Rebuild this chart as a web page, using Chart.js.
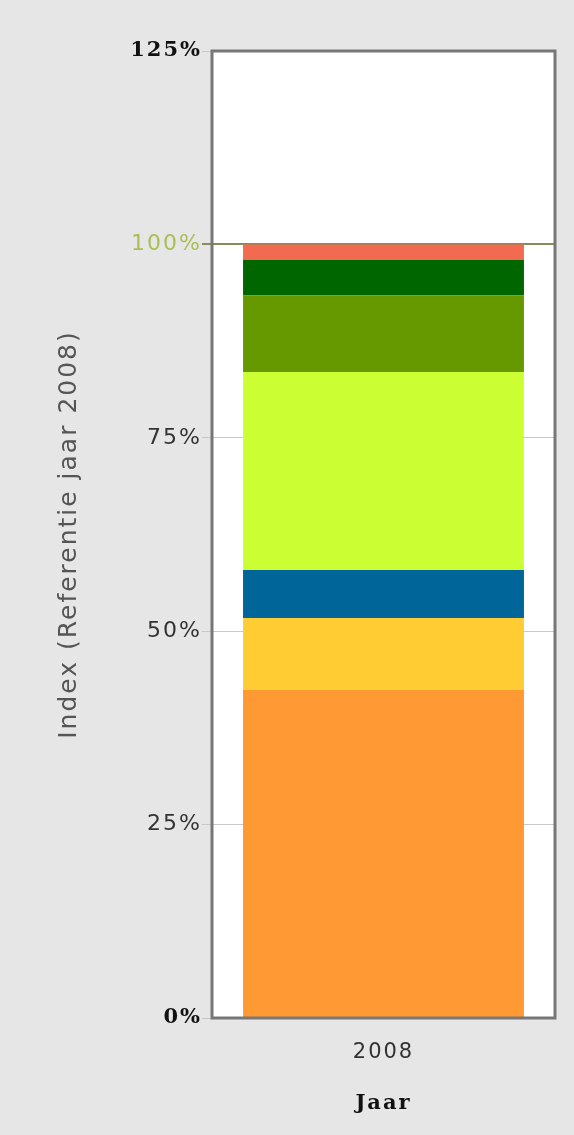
<!DOCTYPE html>
<html>
<head>
<meta charset="utf-8">
<script src="https://cdn.jsdelivr.net/npm/chart.js@4"></script>
<style>
  html, body { margin: 0; padding: 0; background: #e6e6e6; }
  #wrap { width: 574px; height: 1135px; position: relative; }
</style>
</head>
<body>
<div id="wrap"><canvas id="indexChart"></canvas></div>
<script>
// chart data
const categories = ["2008"];
const seriesNames = ["Deel 1", "Deel 2", "Deel 3", "Deel 4", "Deel 5", "Deel 6", "Deel 7"];
const seriesValues = [42.4, 9.3, 6.2, 25.6, 9.9, 4.6, 2.0];
const seriesColors = ["#ff9933", "#ffcc33", "#006699", "#ccff33", "#669900", "#006600", "#f26a4f"];
const tickValues = [0, 25, 50, 75, 100, 125];

const tickVal = ctx => (ctx && ctx.tick ? ctx.tick.value : null);
const isEnd = v => v === 0 || v === 125;

// grey page, white plot area and the frame round it
const frame = {
    id: "frame",
    beforeDraw(chart) {
        const c = chart.ctx, a = chart.chartArea;
        c.save();
        c.fillStyle = "#e6e6e6";
        c.fillRect(0, 0, chart.width, chart.height);
        c.fillStyle = "#ffffff";
        c.fillRect(a.left, a.top, a.right - a.left, a.bottom - a.top);
        c.restore();
        // the old chart has widely spaced lettering
        c.letterSpacing = "2px";
    },
    afterDraw(chart) {
        const c = chart.ctx, a = chart.chartArea;
        c.save();
        c.strokeStyle = "#777777";
        c.lineWidth = 3;
        c.strokeRect(a.left, a.top, a.right - a.left, a.bottom - a.top);
        c.restore();
        c.letterSpacing = "0px";
    }
};

new Chart(document.getElementById("indexChart"), {
    type: "bar",
    data: {
        labels: categories,
        datasets: seriesValues.map((v, i) => ({
            label: seriesNames[i],
            data: [v],
            backgroundColor: seriesColors[i],
            borderWidth: 0,
            barPercentage: 0.819,
            categoryPercentage: 1
        }))
    },
    options: {
        responsive: true,
        maintainAspectRatio: false,
        animation: false,
        layout: { padding: { left: 0, top: 51, right: 19, bottom: 0 } },
        plugins: { legend: { display: false }, tooltip: { enabled: false } },
        scales: {
            x: {
                stacked: true,
                grid: { display: false },
                border: { display: false },
                ticks: { color: "#333", padding: 14, font: { family: "DejaVu Sans", size: 21, lineHeight: 1.2 } },
                title: {
                    display: true, text: "Jaar", color: "#111",
                    font: { family: "DejaVu Serif", size: 21, weight: "bold", lineHeight: 1.2 },
                    padding: { top: 0, bottom: 19 }
                },
                afterFit(scale) { scale.height = 117; }
            },
            y: {
                stacked: true,
                min: 0,
                max: 125,
                afterBuildTicks(scale) { scale.ticks = tickValues.map(v => ({ value: v })); },
                grid: {
                    color: ctx => tickVal(ctx) === 100 ? "#8a8a5c" : "#c8c8c8",
                    lineWidth: ctx => tickVal(ctx) === 100 ? 2 : 1,
                    tickLength: 10
                },
                border: { display: false },
                ticks: {
                    padding: 0,
                    callback: v => v + "%",
                    color: ctx => tickVal(ctx) === 100 ? "#a9bf55" : (isEnd(tickVal(ctx)) ? "#111" : "#333"),
                    font: ctx => isEnd(tickVal(ctx))
                        ? { family: "DejaVu Serif", size: 21, weight: "bold" }
                        : { family: "DejaVu Sans", size: 22 }
                },
                title: {
                    display: true, text: "Index (Referentie jaar 2008)", color: "#555",
                    font: { family: "DejaVu Sans", size: 25, lineHeight: 1.2 },
                    padding: { top: 54, bottom: 0 }
                },
                afterFit(scale) { scale.width = 212; }
            }
        }
    },
    plugins: [frame]
});
</script>
</body>
</html>
